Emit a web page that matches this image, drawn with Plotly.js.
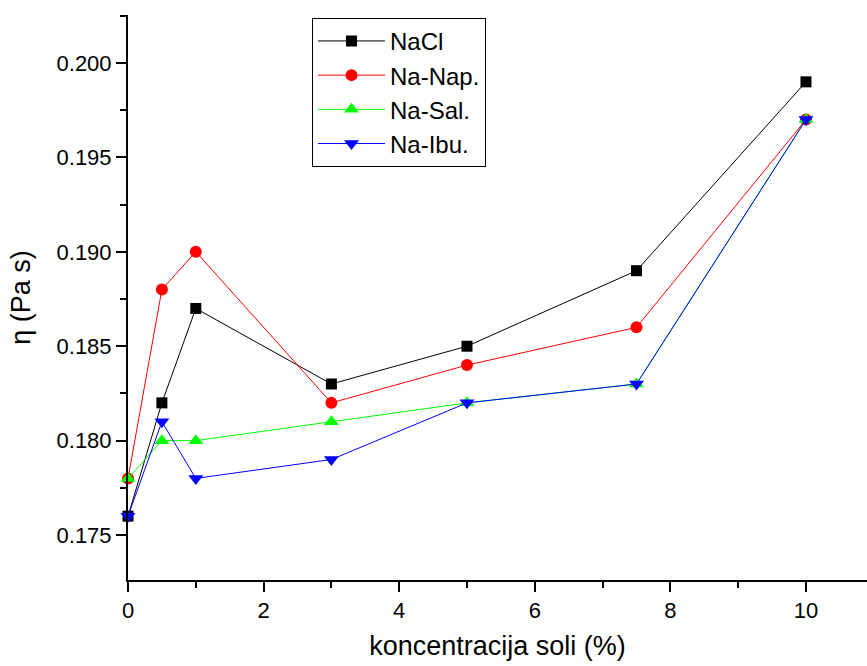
<!DOCTYPE html>
<html><head><meta charset="utf-8">
<script src="https://cdn.plot.ly/plotly-3.0.1.min.js"></script>
<style>html,body{margin:0;padding:0;background:#fff}#c{width:867px;height:666px}</style>
</head><body><div id="c"></div>
<script>
const conc = [0, 0.5, 1, 3, 5, 7.5, 10];
const nacl = [0.176, 0.182, 0.187, 0.183, 0.185, 0.189, 0.199];
const naNap = [0.178, 0.188, 0.190, 0.182, 0.184, 0.186, 0.197];
const naSal = [0.178, 0.180, 0.180, 0.181, 0.182, 0.183, 0.197];
const naIbu = [0.176, 0.181, 0.178, 0.179, 0.182, 0.183, 0.197];
const names = ['NaCl', 'Na-Nap.', 'Na-Sal.', 'Na-Ibu.'];
const xTicks = [0, 2, 4, 6, 8, 10];
const yTicks = [0.175, 0.180, 0.185, 0.190, 0.195, 0.200];

const F = 'Liberation Sans, Arial, sans-serif';
function tr(y, name, color, symbol, size) {
  return {x: conc, y: y, name: name, type: 'scatter', mode: 'lines+markers',
    line: {color: color, width: 1}, cliponaxis: false,
    marker: {symbol: symbol, size: size, color: color}};
}
const data = [
  tr(nacl, names[0], '#000000', 'square', 11),
  tr(naNap, names[1], '#ff0000', 'circle', 12),
  tr(naSal, names[2], '#00ff00', 'triangle-up', 13),
  tr(naIbu, names[3], '#0000ff', 'triangle-down', 13)
];
const layout = {
  width: 867, height: 666,
  margin: {l: 128, r: 0, t: 15, b: 86},
  paper_bgcolor: '#fff', plot_bgcolor: '#fff',
  font: {family: F, color: '#000'},
  showlegend: true,
  legend: {x: 0.249, y: 0.995, xanchor: 'left', yanchor: 'top',
    bordercolor: '#000', borderwidth: 1, bgcolor: '#fff',
    font: {family: F, size: 24, color: '#000'}, tracegroupgap: 0, itemwidth: 67},
  xaxis: {range: [0, 10.9], tickvals: xTicks, ticktext: xTicks.map(String),
    showgrid: false, zeroline: false, showline: true, linecolor: '#000', linewidth: 2,
    ticks: 'outside', ticklen: 10, tickwidth: 2, tickcolor: '#000',
    minor: {dtick: 1, tick0: 0, ticks: 'outside', ticklen: 6, tickwidth: 2, tickcolor: '#000', showgrid: false},
    tickfont: {family: F, size: 22}, anchor: 'y',
    title: {text: 'koncentracija soli (%)', font: {family: F, size: 27}, standoff: 14}},
  yaxis: {range: [0.17262, 0.20254], tickvals: yTicks, ticktext: yTicks.map(v => v.toFixed(3)),
    showgrid: false, zeroline: false, showline: true, linecolor: '#000', linewidth: 2,
    ticks: 'outside', ticklen: 10, tickwidth: 2, tickcolor: '#000',
    minor: {dtick: 0.0025, tick0: 0.175, ticks: 'outside', ticklen: 6, tickwidth: 2, tickcolor: '#000', showgrid: false},
    tickfont: {family: F, size: 22},
    title: {text: 'η (Pa s)', font: {family: F, size: 27}, standoff: 18}}
};
Plotly.newPlot('c', data, layout, {displayModeBar: false, staticPlot: true});
</script></body></html>
